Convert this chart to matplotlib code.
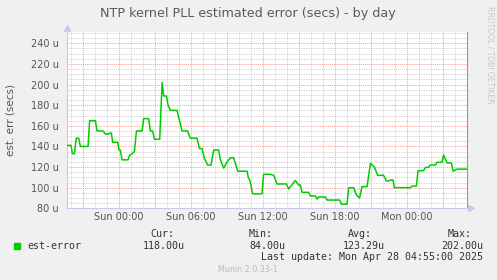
import matplotlib
matplotlib.use('Agg')
import matplotlib.pyplot as plt
from matplotlib.ticker import MultipleLocator, FuncFormatter

# hours relative to Sun 00:00
hours = [-4.30, -3.97, -3.86, -3.69, -3.53, -3.33, -3.19, -2.55, -2.42, -1.94,
         -1.80, -1.30, -1.11, -0.83, -0.75, -0.61, -0.50, -0.08, 0.03, 0.14,
         0.28, 0.78, 0.89, 1.12, 1.31, 1.48, 1.95, 2.08, 2.50, 2.64,
         2.83, 2.98, 3.42, 3.62, 3.75, 3.98, 4.12, 4.31, 4.87, 5.00,
         5.14, 5.28, 5.75, 5.87, 5.97, 6.53, 6.73, 6.95, 7.14, 7.42,
         7.70, 7.92, 8.33, 8.48, 8.75, 9.03, 9.31, 9.58, 9.73, 9.92,
         10.70, 10.80, 10.90, 11.02, 11.12, 11.18, 11.95, 12.08, 12.64, 12.92,
         13.20, 13.98, 14.17, 14.72, 15.00, 15.14, 15.28, 15.83, 15.97, 16.39,
         16.53, 16.67, 17.22, 17.37, 18.42, 18.56, 19.03, 19.17, 19.58, 19.81,
         20.08, 20.28, 20.70, 20.98, 21.33, 21.58, 22.08, 22.31, 22.50, 22.64,
         22.87, 22.97, 24.31, 24.45, 24.81, 24.95, 25.42, 25.56, 25.83, 25.98,
         26.39, 26.53, 26.95, 27.08, 27.37, 27.73, 27.87, 28.20, 29.03]
est_error = [141, 141, 133, 133, 148, 148, 140, 140, 165, 165,
             155, 155, 152, 152, 153, 153, 144, 144, 136.5, 136.5,
             127, 127, 131, 133, 135, 155, 155, 167, 167, 155,
             155, 147, 147, 202, 189, 189, 180, 175, 175, 168,
             162, 155, 155, 151, 148, 148, 138, 138, 128.5, 122,
             122, 136.5, 136.5, 127, 119, 125, 129, 129, 123.6, 116,
             116, 110, 108, 103, 96, 94, 94, 113, 113, 112,
             103.6, 103.6, 98.7, 107, 102.6, 102.6, 95.5, 95.5, 92, 92,
             89, 91, 91, 88, 88, 84, 84, 100, 100, 93,
             90, 101, 101, 123.6, 119.7, 112, 112, 106.5, 106.5, 107.4,
             107.4, 100, 100, 101.6, 101.6, 116.5, 116.5, 119.7, 119.7, 122,
             122, 124.6, 124.6, 131.7, 124, 124, 116, 118, 118]

tick_names = {0: 'Sun 00:00', 6: 'Sun 06:00', 12: 'Sun 12:00', 18: 'Sun 18:00', 24: 'Mon 00:00'}
stat_names = ['Cur:', 'Min:', 'Avg:', 'Max:']
stat_values = ['118.00u', '84.00u', '123.29u', '202.00u']

W, H = 497, 280
fig = plt.figure(figsize=(W / 100, H / 100), dpi=100, facecolor='#F0F0F0')
ax = fig.add_axes([67 / W, 1 - 208.3 / H, 400 / W, 176.3 / H])
ax.set_facecolor('white')

ax.plot(hours, est_error, color='#00CC00', linewidth=1.1, zorder=3)
ax.set_xlim(-4.306, 29.03)
ax.set_ylim(80, 251)

# grid: grey every hour / 5u, red every 3 hours / 20u
ax.xaxis.set_major_locator(MultipleLocator(3))
ax.xaxis.set_minor_locator(MultipleLocator(1))
ax.yaxis.set_major_locator(MultipleLocator(20))
ax.yaxis.set_minor_locator(MultipleLocator(5))
ax.grid(which='minor', color='#C8C8C8', linestyle=(0, (1, 1)), linewidth=0.6)
ax.grid(which='major', color='#F4A0A0', linestyle=(0, (1, 1)), linewidth=0.7)
ax.set_axisbelow(True)

ax.xaxis.set_major_formatter(FuncFormatter(lambda v, p: tick_names.get(int(round(v)), '')))
ax.yaxis.set_major_formatter(FuncFormatter(lambda v, p: '%d u' % v))
ax.tick_params(axis='both', which='both', length=0, colors='#555555', labelsize=7)
ax.tick_params(axis='x', pad=3)
ax.tick_params(axis='y', pad=6)

ax.spines['top'].set_visible(False)
ax.spines['left'].set_color('#C8C8F0')
ax.spines['bottom'].set_color('#C8C8F0')
ax.spines['right'].set_color('#999999')
for s in ax.spines.values():
    s.set_linewidth(0.8)

# axis arrows
ax.plot([0, 0], [1, 1.025], color='#C8C8F0', lw=0.8, transform=ax.transAxes, clip_on=False)
ax.plot(0, 1.025, marker='^', color='#C8C8F0', markersize=4, transform=ax.transAxes, clip_on=False)
ax.plot([1, 1.01], [0, 0], color='#C8C8F0', lw=0.8, transform=ax.transAxes, clip_on=False)
ax.plot(1.01, 0, marker='>', color='#C8C8F0', markersize=4, transform=ax.transAxes, clip_on=False)

fig.text(11 / W, 1 - 120 / H, 'est. err (secs)', rotation=90, ha='center', va='center',
         fontsize=7.5, color='#555555')

fig.text(248 / W, 1 - 14 / H, 'NTP kernel PLL estimated error (secs) - by day',
         ha='center', va='center', fontsize=9.2, color='#5A5A5A')
fig.text(490 / W, 1 - 6 / H, 'RRDTOOL / TOBI OETIKER', rotation=-90, ha='center', va='top',
         fontsize=5.5, color='#C8C8C8')

# legend block
mono = 'DejaVu Sans Mono'
fig.patches.append(plt.Rectangle((14 / W, 1 - 248.5 / H), 6 / W, 6 / H,
                                 transform=fig.transFigure, color='#00CC00'))
fig.text(27 / W, 1 - 246 / H, 'est-error', family=mono, fontsize=7.2, color='#333333', va='center')
name_x = [150, 249, 348, 448]
value_right = [185, 285, 385, 483]
for nx, vr, n, v in zip(name_x, value_right, stat_names, stat_values):
    fig.text(nx / W, 1 - 234 / H, n, family=mono, fontsize=7.2, color='#333333', va='center')
    fig.text(vr / W, 1 - 246 / H, v, family=mono, fontsize=7.2, color='#333333', va='center', ha='right')
fig.text(483 / W, 1 - 257.5 / H, 'Last update: Mon Apr 28 04:55:00 2025', family=mono,
         fontsize=7.2, color='#333333', va='center', ha='right')
fig.text(248 / W, 1 - 269 / H, 'Munin 2.0.33-1', fontsize=5.8, color='#BBBBBB', ha='center', va='center')

fig.savefig('out.png', dpi=100, facecolor=fig.get_facecolor())
